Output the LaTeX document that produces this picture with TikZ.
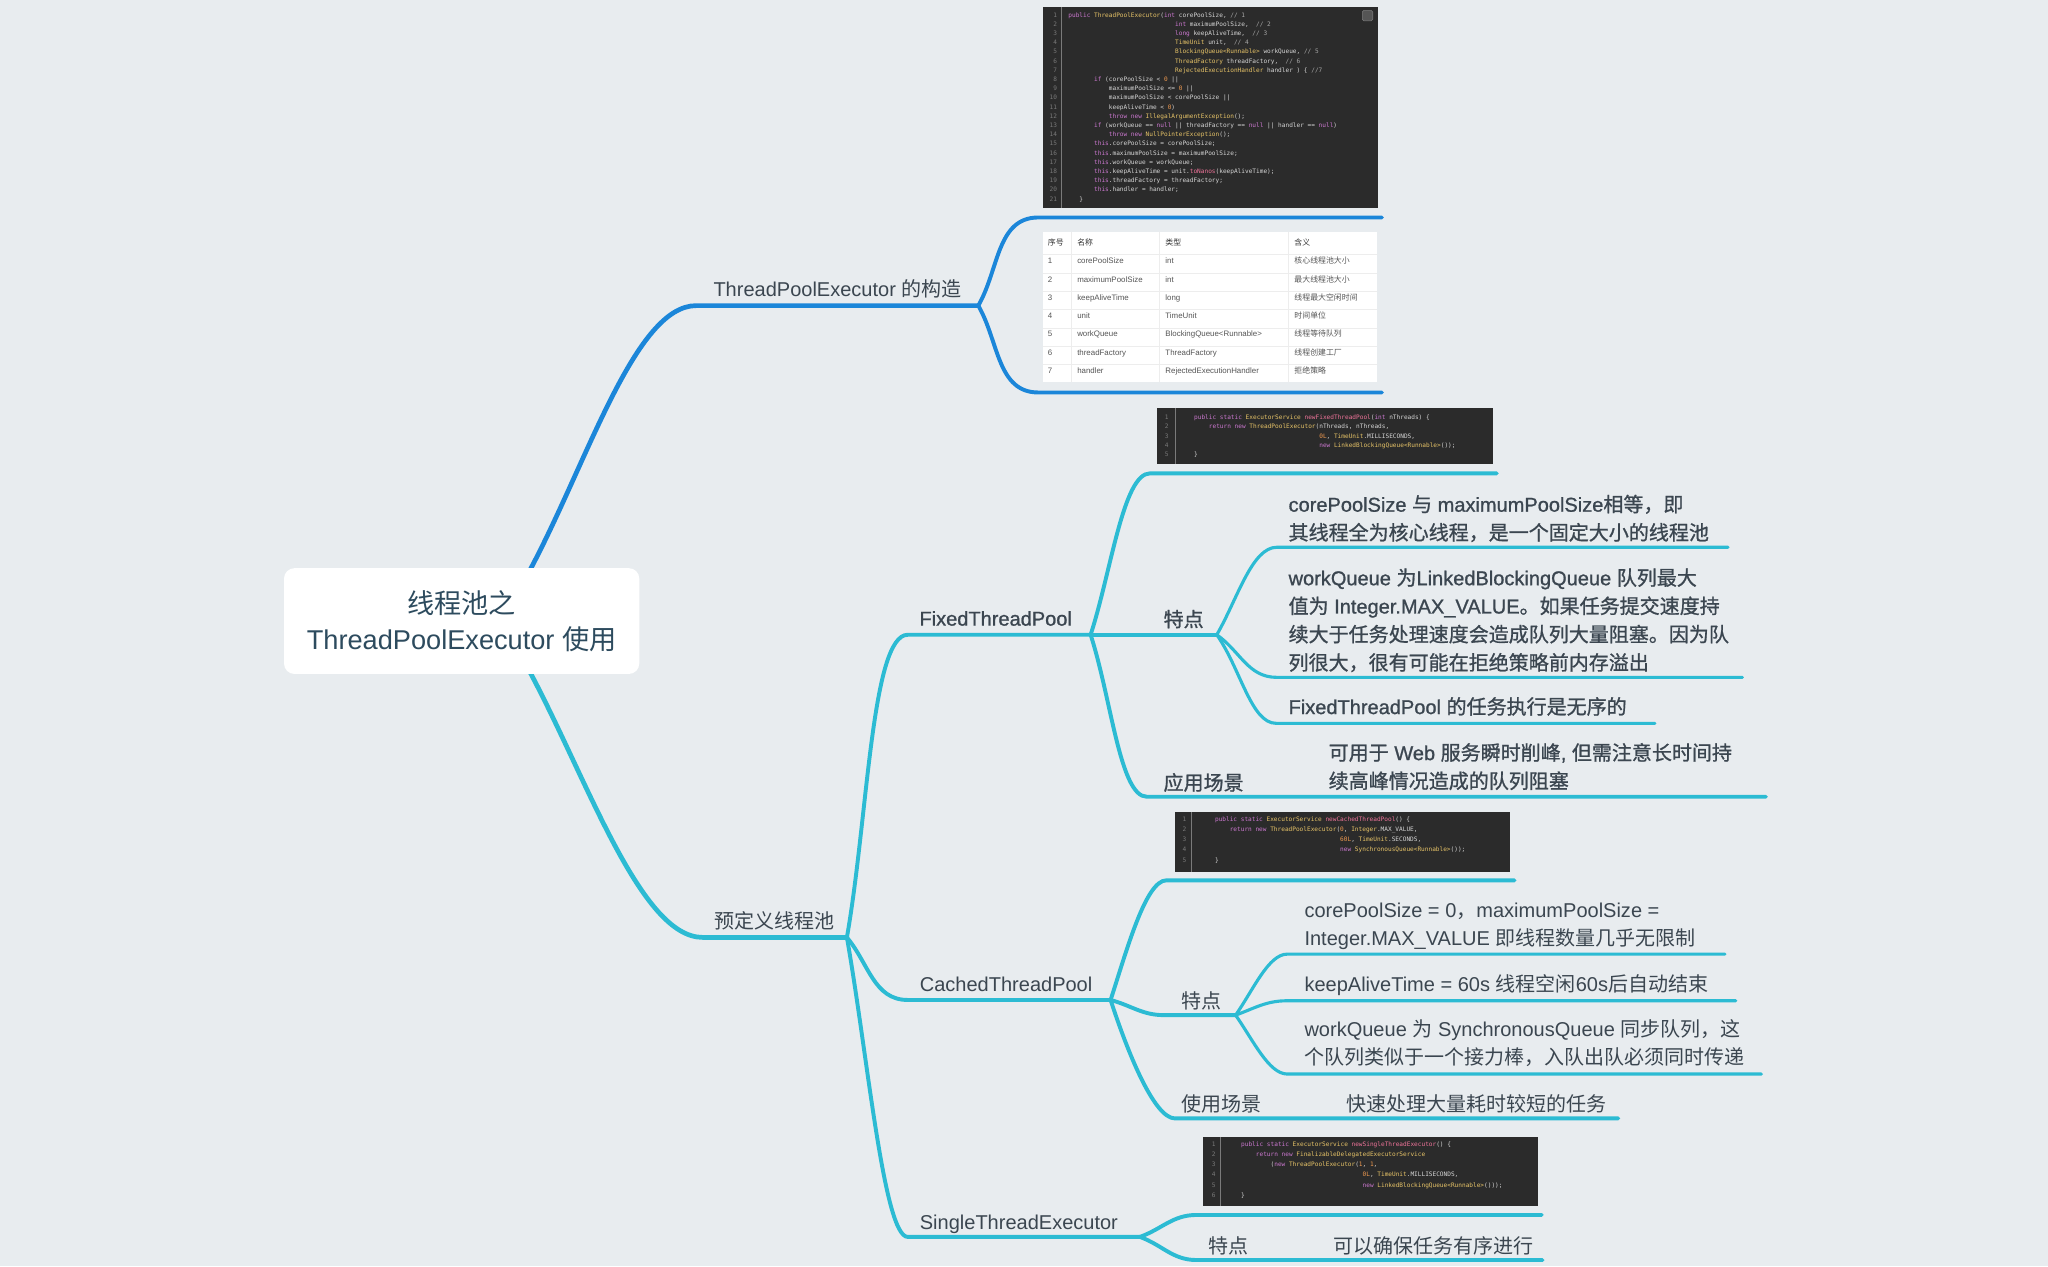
\documentclass[tikz,border=0pt]{standalone}
\usepackage{fontspec}
\usepackage{tikz}
\setmainfont{Liberation Sans}
\setmonofont{DejaVu Sans Mono}
\newfontfamily\zhfont{Noto Sans CJK SC}
\newfontfamily\latmed[FakeBold=1]{Liberation Sans}
\newfontfamily\zhmed[FakeBold=1]{Noto Sans CJK SC}
\let\zhcur\zhfont
\newcommand\zh[1]{{\zhcur #1}}
\definecolor{mapbg}{HTML}{E8ECEF}
\definecolor{mapblue}{HTML}{1B86D9}
\definecolor{mapcyan}{HTML}{2CBBD3}
\definecolor{maptext}{HTML}{3B4650}
\definecolor{roottext}{HTML}{2D4B5E}
\definecolor{codebg}{HTML}{2B2B2B}
\definecolor{codetext}{HTML}{D6D6D6}
\definecolor{codekw}{HTML}{CC78D0}
\definecolor{codety}{HTML}{E8C468}
\definecolor{codefn}{HTML}{F0749A}
\definecolor{codenum}{HTML}{F09A50}
\definecolor{codecm}{HTML}{A8A8A8}
\definecolor{codeln}{HTML}{7A7A7A}
\definecolor{celltext}{HTML}{555555}
\definecolor{cellhead}{HTML}{333333}
\definecolor{cellrule}{HTML}{EDEDED}
% code colouring
\newcommand\ckw[1]{\textcolor{codekw}{#1}}
\newcommand\cty[1]{\textcolor{codety}{#1}}
\newcommand\cfn[1]{\textcolor{codefn}{#1}}
\newcommand\cnum[1]{\textcolor{codenum}{#1}}
\newcommand\ccm[1]{\textcolor{codecm}{#1}}
\newcommand\cind[1]{\hspace*{#1\fontcharwd\font`x}}
\newcommand\codefont[1]{\ttfamily\fontsize{3.33}{#1}\selectfont}

\begin{document}
\begin{tikzpicture}[x=0.25mm, y=-0.25mm,
    topic/.style={anchor=base west, inner sep=0pt, text=maptext, font=\fontsize{10.9}{15.4}\selectfont},
    boldtopic/.style={topic, font=\latmed\fontsize{10.9}{15.4}\selectfont\let\zhcur\zhmed},
    leaf/.style={topic, align=left},
    boldleaf/.style={boldtopic, align=left},
    rootbox/.style={fill=white, rounded corners=2mm, minimum width=68mm, minimum height=20.25mm, inner sep=0pt},
    roottitle/.style={anchor=base, align=center, inner sep=0pt, text=roottext, font=\fontsize{14.8}{19.4}\selectfont},
    lvA/.style={line width=0.9mm, line cap=round},
    lvB/.style={line width=0.75mm, line cap=round},
    lvC/.style={line width=0.6mm, line cap=round},
    codetxt/.style={anchor=base west, inner sep=0pt, align=left, text=codetext},
    codenum/.style={anchor=base east, inner sep=0pt, align=right, text=codeln},
    codesep/.style={draw=codeln, line width=0.15mm},
    cell/.style={anchor=base west, inner sep=0pt, text=celltext, font=\fontsize{4.3}{5}\selectfont},
    cellhd/.style={cell, text=cellhead},
    cellrule/.style={draw=cellrule, line width=0.12mm}]

    \useasboundingbox (0,0) rectangle (1568,969.3);
    \fill[mapbg] (0,0) rectangle (1568,969.3);

    % Topic line ends
    \coordinate (rootT) at (406,436);
    \coordinate (rootB) at (406,515);
    \coordinate (buildL) at (533,234);
    \coordinate (buildR) at (749,234);
    \coordinate (ctorL) at (795,166.5);
    \coordinate (ctorR) at (1058,166.5);
    \coordinate (paramsL) at (795,300.5);
    \coordinate (paramsR) at (1058,300.5);
    \coordinate (preL) at (538,717.7);
    \coordinate (preR) at (648.4,717.7);
    \coordinate (fixedL) at (695,486);
    \coordinate (fixedR) at (835,486);
    \coordinate (fixCodeL) at (880.5,362.4);
    \coordinate (fixCodeR) at (1146,362.4);
    \coordinate (fixFeatR) at (931.6,486);
    \coordinate (fixF1L) at (977.5,419);
    \coordinate (fixF1R) at (1323,419);
    \coordinate (fixF2L) at (977.5,518.6);
    \coordinate (fixF2R) at (1334,518.6);
    \coordinate (fixF3L) at (977,553.8);
    \coordinate (fixF3R) at (1267,553.8);
    \coordinate (fixUseL) at (878,610);
    \coordinate (fixUseR) at (958,610);
    \coordinate (fixUse1R) at (1352,610);
    \coordinate (cachedL) at (695,765.6);
    \coordinate (cachedR) at (850.3,765.6);
    \coordinate (cacheCodeL) at (893,674);
    \coordinate (cacheCodeR) at (1159.6,674);
    \coordinate (cacheFeatL) at (891,777.2);
    \coordinate (cacheFeatR) at (946,777.2);
    \coordinate (cacheF1L) at (985.5,730.5);
    \coordinate (cacheF1R) at (1320.7,730.5);
    \coordinate (cacheF2L) at (985.5,766.2);
    \coordinate (cacheF2R) at (1329,766.2);
    \coordinate (cacheF3L) at (985.5,822.3);
    \coordinate (cacheF3R) at (1348.6,822.3);
    \coordinate (cacheUseL) at (899.6,856.3);
    \coordinate (cacheUseR) at (975,856.3);
    \coordinate (cacheUse1R) at (1239,856.3);
    \coordinate (singleL) at (695,947);
    \coordinate (singleR) at (872.8,947);
    \coordinate (singleCodeL) at (916,930.2);
    \coordinate (singleCodeR) at (1180.4,930.2);
    \coordinate (singleFeatL) at (916,964.7);
    \coordinate (singleFeatR) at (1005,964.7);
    \coordinate (singleF1R) at (1181,964.7);

    % Blue branch
    \draw[lvA, mapblue] (rootT) to[out=62, in=180, in looseness=0.5] (buildL) -- (buildR);
    \draw[lvB, mapblue] (buildR) to[out=60, in=180] (ctorL) -- (ctorR);
    \draw[lvB, mapblue] (buildR) to[out=-60, in=180] (paramsL) -- (paramsR);

    % Cyan branch
    \draw[lvA, mapcyan] (rootB) to[out=-62, in=180, in looseness=0.5] (preL) -- (preR);
    \draw[lvB, mapcyan] (preR) to[out=80, in=180, in looseness=0.3] (fixedL) -- (fixedR);
    \draw[lvB, mapcyan] (preR) to[out=-50, in=180] (cachedL) -- (cachedR);
    \draw[lvB, mapcyan] (preR) to[out=-80, in=180, in looseness=0.2] (singleL) -- (singleR);

    \draw[lvB, mapcyan] (fixedR) to[out=72, in=180, in looseness=0.4] (fixCodeL) -- (fixCodeR);
    \draw[lvB, mapcyan] (fixedR) -- (fixFeatR);
    \draw[lvB, mapcyan] (fixedR) to[out=-72, in=180, in looseness=0.4] (fixUseL) -- (fixUseR) -- (fixUse1R);
    \draw[lvC, mapcyan] (fixFeatR) to[out=60, in=180, in looseness=0.6] (fixF1L) -- (fixF1R);
    \draw[lvC, mapcyan] (fixFeatR) to[out=-35, in=180] (fixF2L) -- (fixF2R);
    \draw[lvC, mapcyan] (fixFeatR) to[out=-55, in=180, in looseness=0.6] (fixF3L) -- (fixF3R);

    \draw[lvB, mapcyan] (cachedR) to[out=72, in=180, in looseness=0.4] (cacheCodeL) -- (cacheCodeR);
    \draw[lvB, mapcyan] (cachedR) to[out=-15, in=180] (cacheFeatL) -- (cacheFeatR);
    \draw[lvB, mapcyan] (cachedR) to[out=-72, in=180, in looseness=0.4] (cacheUseL) -- (cacheUseR) -- (cacheUse1R);
    \draw[lvC, mapcyan] (cacheFeatR) to[out=55, in=180, in looseness=0.6] (cacheF1L) -- (cacheF1R);
    \draw[lvC, mapcyan] (cacheFeatR) to[out=20, in=180] (cacheF2L) -- (cacheF2R);
    \draw[lvC, mapcyan] (cacheFeatR) to[out=-55, in=180, in looseness=0.6] (cacheF3L) -- (cacheF3R);

    \draw[lvB, mapcyan] (singleR) to[out=20, in=180] (singleCodeL) -- (singleCodeR);
    \draw[lvB, mapcyan] (singleR) to[out=-20, in=180] (singleFeatL) -- (singleFeatR) -- (singleF1R);

    % Root
    \node[rootbox] (root) at (353.45,475.5) {};
    \node[roottitle] (rootTitle) at (353.45,497.3) {\zh{线程池之}\\ThreadPoolExecutor \zh{使用}};

    % Topics (multi-line texts sit on their last baseline)
    \node[topic] (build) at (546,227) {ThreadPoolExecutor \zh{的构造}};
    \node[topic] (pre) at (547,710.8) {\zh{预定义线程池}};
    \node[boldtopic] (fixed) at (703.7,479) {FixedThreadPool};
    \node[boldtopic] (fixFeat) at (890.6,479.8) {\zh{特点}};
    \node[boldleaf] (fixF1) at (986.3,413.4) {corePoolSize \zh{与} maximumPoolSize\zh{相等，即}\\\zh{其线程全为核心线程，是一个固定大小的线程池}};
    \node[boldleaf] (fixF2) at (986.3,513) {workQueue \zh{为}LinkedBlockingQueue \zh{队列最大}\\\zh{值为} Integer.MAX\_VALUE\zh{。如果任务提交速度持}\\\zh{续大于任务处理速度会造成队列大量阻塞。因为队}\\\zh{列很大，很有可能在拒绝策略前内存溢出}};
    \node[boldtopic] (fixF3) at (986.3,546.7) {FixedThreadPool \zh{的任务执行是无序的}};
    \node[boldtopic] (fixUse) at (890.6,604.9) {\zh{应用场景}};
    \node[boldleaf] (fixUse1) at (1017,603.6) {\zh{可用于} Web \zh{服务瞬时削峰}, \zh{但需注意长时间持}\\\zh{续高峰情况造成的队列阻塞}};
    \node[topic] (cached) at (704,759) {CachedThreadPool};
    \node[topic] (cacheFeat) at (904,772) {\zh{特点}};
    \node[leaf] (cacheF1) at (998.5,723.8) {corePoolSize = 0\zh{，}maximumPoolSize =\\Integer.MAX\_VALUE \zh{即线程数量几乎无限制}};
    \node[topic] (cacheF2) at (998.5,759.3) {keepAliveTime = 60s \zh{线程空闲}60s\zh{后自动结束}};
    \node[leaf] (cacheF3) at (998.5,814.9) {workQueue \zh{为} SynchronousQueue \zh{同步队列，这}\\\zh{个队列类似于一个接力棒，入队出队必须同时传递}};
    \node[topic] (cacheUse) at (904,851.2) {\zh{使用场景}};
    \node[topic] (cacheUse1) at (1030.6,851.2) {\zh{快速处理大量耗时较短的任务}};
    \node[topic] (single) at (704,941) {SingleThreadExecutor};
    \node[topic] (singleFeat) at (925,960) {\zh{特点}};
    \node[topic] (singleF1) at (1020.7,960) {\zh{可以确保任务有序进行}};

    % Constructor source
    \fill[codebg] (798.5,5.6) rectangle (1055,159);
    \draw[codesep] (813,5.6) -- (813,159);
    \draw[draw=codeln, fill=codebg!80!white, rounded corners=0.3mm, line width=0.1mm] (1043,8) rectangle (1051,16);
    \node[codenum, font=\codefont{5.01}] (ctorNum) at (809.5,154) {1\\2\\3\\4\\5\\6\\7\\8\\9\\10\\11\\12\\13\\14\\15\\16\\17\\18\\19\\20\\21};
    \node[codetxt, font=\codefont{5.01}] (ctor) at (817.7,154) {%
      \ckw{public} \cty{ThreadPoolExecutor}(\ckw{int} corePoolSize, \ccm{// 1}\\
      \cind{29}\ckw{int} maximumPoolSize,\cind{2}\ccm{// 2}\\
      \cind{29}\ckw{long} keepAliveTime,\cind{2}\ccm{// 3}\\
      \cind{29}\cty{TimeUnit} unit,\cind{2}\ccm{// 4}\\
      \cind{29}\cty{BlockingQueue<Runnable>} workQueue, \ccm{// 5}\\
      \cind{29}\cty{ThreadFactory} threadFactory,\cind{2}\ccm{// 6}\\
      \cind{29}\cty{RejectedExecutionHandler} handler ) \{ \ccm{//7}\\
      \cind{7}\ckw{if} (corePoolSize < \cnum{0} ||\\
      \cind{11}maximumPoolSize <= \cnum{0} ||\\
      \cind{11}maximumPoolSize < corePoolSize ||\\
      \cind{11}keepAliveTime < \cnum{0})\\
      \cind{11}\ckw{throw new} \cty{IllegalArgumentException}();\\
      \cind{7}\ckw{if} (workQueue == \ckw{null} || threadFactory == \ckw{null} || handler == \ckw{null})\\
      \cind{11}\ckw{throw new} \cty{NullPointerException}();\\
      \cind{7}\ckw{this}.corePoolSize = corePoolSize;\\
      \cind{7}\ckw{this}.maximumPoolSize = maximumPoolSize;\\
      \cind{7}\ckw{this}.workQueue = workQueue;\\
      \cind{7}\ckw{this}.keepAliveTime = unit.\cfn{toNanos}(keepAliveTime);\\
      \cind{7}\ckw{this}.threadFactory = threadFactory;\\
      \cind{7}\ckw{this}.handler = handler;\\
      \cind{3}\}};

    % Parameter table
    \node[fill=white, minimum width=63.875mm, minimum height=28.625mm, inner sep=0pt] (params) at (926.25,235.25) {};
    \foreach \ry in {195,209,223,237,251,265,279}
      \draw[cellrule] (798.5,\ry) -- (1054,\ry);
    \foreach \rx in {820.5,887.6,986.4}
      \draw[cellrule] (\rx,178) -- (\rx,292.5);
    \node[cellhd] (hNo) at (802,188) {\zh{序号}};
    \node[cellhd] (hName) at (824.5,188) {\zh{名称}};
    \node[cellhd] (hType) at (892,188) {\zh{类型}};
    \node[cellhd] (hMean) at (990.8,188) {\zh{含义}};
    \foreach \n/\pname/\ptype/\pmean in {1/corePoolSize/int/核心线程池大小,
        2/maximumPoolSize/int/最大线程池大小, 3/keepAliveTime/long/线程最大空闲时间,
        4/unit/TimeUnit/时间单位, 5/workQueue/BlockingQueue<Runnable>/线程等待队列,
        6/threadFactory/ThreadFactory/线程创建工厂, 7/handler/RejectedExecutionHandler/拒绝策略} {
      \node[cell] (row\n-no) at (802,{188+14*\n}) {\n};
      \node[cell] (row\n-name) at (824.5,{188+14*\n}) {\pname};
      \node[cell] (row\n-type) at (892,{188+14*\n}) {\ptype};
      \node[cell] (row\n-mean) at (990.8,{188+14*\n}) {\zh{\pmean}};
    }

    % FixedThreadPool source
    \fill[codebg] (886,312.5) rectangle (1143,355);
    \draw[codesep] (900,312.5) -- (900,355);
    \node[codenum, font=\codefont{5.12}] (fixNum) at (895,349.8) {1\\2\\3\\4\\5};
    \node[codetxt, font=\codefont{5.12}] (fixCode) at (914,349.8) {%
      \ckw{public static} \cty{ExecutorService} \cfn{newFixedThreadPool}(\ckw{int} nThreads) \{\\
      \cind{4}\ckw{return new} \cty{ThreadPoolExecutor}(nThreads, nThreads,\\
      \cind{34}\cnum{0L}, \cty{TimeUnit}.MILLISECONDS,\\
      \cind{34}\ckw{new} \cty{LinkedBlockingQueue<Runnable>}());\\
      \}};

    % CachedThreadPool source
    \fill[codebg] (899.6,621.7) rectangle (1156,667.7);
    \draw[codesep] (912,621.7) -- (912,667.7);
    \node[codenum, font=\codefont{5.58}] (cacheNum) at (908.5,660) {1\\2\\3\\4\\5};
    \node[codetxt, font=\codefont{5.58}] (cacheCode) at (930,660) {%
      \ckw{public static} \cty{ExecutorService} \cfn{newCachedThreadPool}() \{\\
      \cind{4}\ckw{return new} \cty{ThreadPoolExecutor}(\cnum{0}, \cty{Integer}.MAX\_VALUE,\\
      \cind{34}\cnum{60L}, \cty{TimeUnit}.SECONDS,\\
      \cind{34}\ckw{new} \cty{SynchronousQueue<Runnable>}());\\
      \}};

    % SingleThreadExecutor source
    \fill[codebg] (921,870.5) rectangle (1177.6,923.4);
    \draw[codesep] (934.7,870.5) -- (934.7,923.4);
    \node[codenum, font=\codefont{5.48}] (singleNum) at (931,916.5) {1\\2\\3\\4\\5\\6};
    \node[codetxt, font=\codefont{5.48}] (singleCode) at (950,916.5) {%
      \ckw{public static} \cty{ExecutorService} \cfn{newSingleThreadExecutor}() \{\\
      \cind{4}\ckw{return new} \cty{FinalizableDelegatedExecutorService}\\
      \cind{8}(\ckw{new} \cty{ThreadPoolExecutor}(\cnum{1}, \cnum{1},\\
      \cind{33}\cnum{0L}, \cty{TimeUnit}.MILLISECONDS,\\
      \cind{33}\ckw{new} \cty{LinkedBlockingQueue<Runnable>}()));\\
      \}};
\end{tikzpicture}
\end{document}
